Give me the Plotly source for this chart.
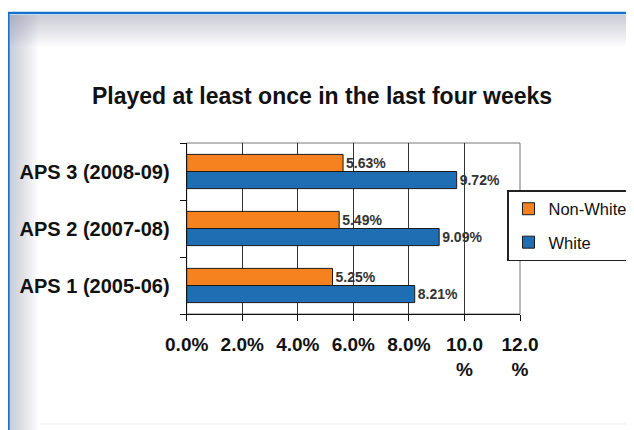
import plotly.graph_objects as go

categories = ["APS 1 (2005-06)", "APS 2 (2007-08)", "APS 3 (2008-09)"]
non_white = [5.25, 5.49, 5.63]
white = [8.21, 9.09, 9.72]
tick_vals = [0, 2, 4, 6, 8, 10, 12]
tick_text = ["0.0%", "2.0%", "4.0%", "6.0%", "8.0%", "10.0<br>%", "12.0<br>%"]

# page body has an 8px margin: figure pixel = screen pixel - 8
OFF = 8
W, H = 634, 430


def px(X):
    return (X - OFF) / W


def py(Y):
    return 1 - (Y - OFF) / H


FONT = "Liberation Sans, Arial, sans-serif"
ORANGE = "#F5821F"
BLUE = "#1F6DB2"

fig = go.Figure()
fig.add_trace(go.Bar(
    y=categories, x=white, name="White", orientation="h",
    legendgroup="w", legendrank=2,
    marker=dict(color=BLUE, line=dict(color="#1a1a1a", width=1)),
    texttemplate="%{x:.2f}%", textposition="outside",
    textfont=dict(family=FONT, size=14, color="#333", weight="bold"),
    cliponaxis=False,
))
fig.add_trace(go.Bar(
    y=categories, x=non_white, name="Non-White", orientation="h",
    legendgroup="n", legendrank=1,
    marker=dict(color=ORANGE, line=dict(color="#1a1a1a", width=1)),
    texttemplate="%{x:.2f}%", textposition="outside",
    textfont=dict(family=FONT, size=14, color="#333", weight="bold"),
    cliponaxis=False,
))

shapes = []
# shadow gradients inside the frame
for i in range(14):
    shapes.append(dict(type="rect", xref="paper", yref="paper",
                       x0=px(10), x1=1.0, y0=py(15 + 2.2 * (i + 1)), y1=py(15),
                       fillcolor="rgba(150,155,162,0.035)", line=dict(width=0), layer="below"))
    shapes.append(dict(type="rect", xref="paper", yref="paper",
                       x0=px(10), x1=px(10 + 2.0 * (i + 1)), y0=py(440), y1=py(15),
                       fillcolor="rgba(150,155,162,0.035)", line=dict(width=0), layer="below"))
# faint bottom line
shapes.append(dict(type="line", xref="paper", yref="paper",
                   x0=px(40), x1=1, y0=py(424), y1=py(424),
                   line=dict(color="rgba(215,215,215,0.5)", width=1), layer="below"))
# blue frame
shapes.append(dict(type="line", xref="paper", yref="paper",
                   x0=px(8), x1=1.0, y0=py(13), y1=py(13),
                   line=dict(color="#1473C8", width=2.5)))
shapes.append(dict(type="line", xref="paper", yref="paper",
                   x0=px(8.5), x1=px(8.5), y0=py(440), y1=py(12),
                   line=dict(color="#1473C8", width=2.5)))
# plot area border
shapes.append(dict(type="rect", xref="x domain", yref="y domain",
                   x0=0, x1=1, y0=0, y1=1,
                   line=dict(color="#777", width=1), layer="below"))

fig.update_layout(
    width=W, height=H,
    margin=dict(l=0, r=0, t=0, b=0, autoexpand=False),
    paper_bgcolor="white", plot_bgcolor="white",
    barmode="group", bargap=0.4, bargroupgap=0,
    shapes=shapes,
    title=dict(text="Played at least once in the last four weeks",
               x=px(322), y=py(96), xanchor="center", yanchor="middle",
               automargin=False,
               font=dict(family=FONT, size=23, color="#111", weight="bold")),
    legend=dict(x=px(507), y=py(190), xanchor="left", yanchor="top",
                traceorder="grouped", bgcolor="white",
                bordercolor="#222", borderwidth=1.5, itemwidth=30,
                tracegroupgap=9,
                font=dict(family=FONT, size=16.5, color="#111")),
    xaxis=dict(domain=[px(186.7), px(520)], range=[0, 12],
               tickvals=tick_vals, ticktext=tick_text,
               automargin=False,
               showgrid=True, gridcolor="#333", gridwidth=1,
               showline=True, linecolor="#111", linewidth=1.2,
               ticks="outside", ticklen=6, tickcolor="#111",
               ticklabelstandoff=7,
               tickfont=dict(family=FONT, size=19, color="#111", weight="bold"),
               zeroline=False, fixedrange=True),
    yaxis=dict(domain=[py(314), py(143)], type="category", categoryorder="array",
               categoryarray=categories, tickson="boundaries",
               automargin=False,
               showgrid=False, showline=True, linecolor="#111", linewidth=1.2,
               ticks="outside", ticklen=6, tickcolor="#111",
               ticklabelstandoff=12,
               tickfont=dict(family=FONT, size=20, color="#111", weight="bold"),
               fixedrange=True),
)

fig.write_html("out.html")
